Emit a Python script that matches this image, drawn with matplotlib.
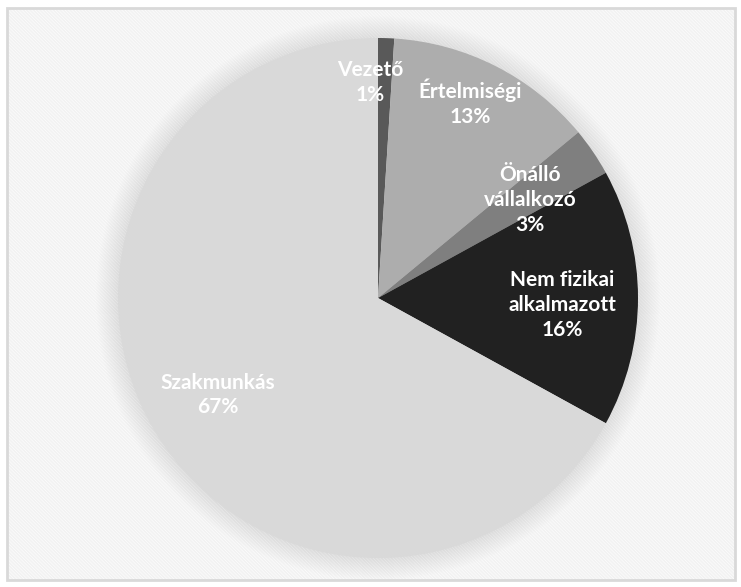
import matplotlib.pyplot as plt
from matplotlib.patches import Rectangle, Circle

# foglalkozási csoportok megoszlása
kategoriak = ['Vezető', 'Értelmiségi', 'Önálló\nvállalkozó', 'Nem fizikai\nalkalmazott', 'Szakmunkás']
ertekek = [1, 13, 3, 16, 67]
szinek = ['#595959', '#adadad', '#7f7f7f', '#212121', '#d9d9d9']

# feliratok helye a kör közepéhez képest, sugár egységben
cimke_xy = [(-0.03, 0.83), (0.354, 0.75), (0.585, 0.377), (0.71, -0.027), (-0.615, -0.373)]

plt.rcParams['hatch.linewidth'] = 1.3

fig = plt.figure(figsize=(7.41, 5.87), dpi=100)
ax = fig.add_axes([0, 0, 1, 1])

kx, ky, R = 378, 289, 260

ax.pie(ertekek, colors=szinek, startangle=90, counterclock=False, center=(kx, ky), radius=R,
       wedgeprops={'linewidth': 0, 'zorder': 2})

ax.set_xlim(0, 741)
ax.set_ylim(0, 587)
ax.set_aspect('equal')
ax.axis('off')

# csíkos háttér és keret
ax.add_patch(Rectangle((7, 7), 728, 572, facecolor='white', edgecolor='none', zorder=0))
ax.add_patch(Rectangle((7, 7), 728, 572, facecolor='none', edgecolor='#f2f2f2', linewidth=0,
                       hatch='\\' * 10, zorder=0.5))
ax.add_patch(Rectangle((7, 7), 728, 572, facecolor='none', edgecolor='#d9d9d9', linewidth=2, zorder=3))

# halvány árnyék a kör körül
for i in range(22):
    ax.add_patch(Circle((kx, ky), R + 22 - i, facecolor='#000000', alpha=0.005, edgecolor='none', zorder=1))

for nev, v, (x, y) in zip(kategoriak, ertekek, cimke_xy):
    ax.text(kx + x * R, ky + y * R, f'{nev}\n{v}%', ha='center', va='center', color='white',
            fontsize=15, fontweight='bold', family='Lato', linespacing=1.3, zorder=4)

fig.savefig('out.png', dpi=100)
